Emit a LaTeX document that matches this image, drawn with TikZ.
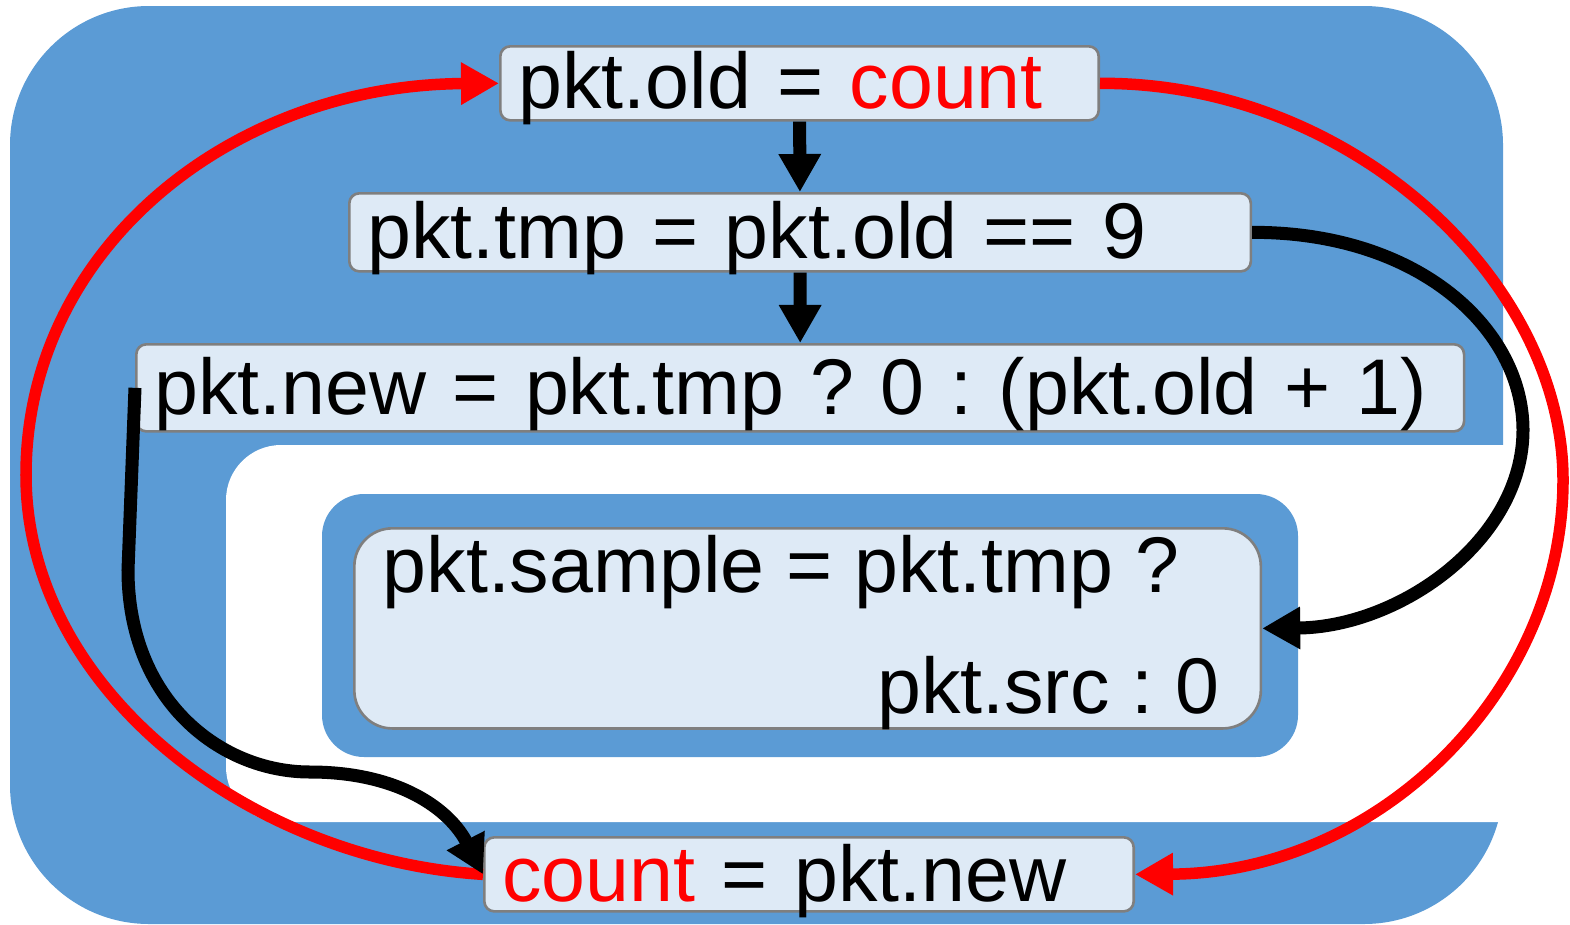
\documentclass[tikz,border=0pt]{standalone}
\usepackage{fontspec}
\setmainfont{Liberation Sans}
\usetikzlibrary{arrows.meta}
\definecolor{panelblue}{HTML}{5B9BD5}
\definecolor{stmtfill}{HTML}{DEEAF6}
\definecolor{stmtline}{HTML}{7F7F7F}

\begin{document}
\begin{tikzpicture}[x=0.01cm, y=-0.01cm,
		every node/.style={font=\fontsize{22.45pt}{34pt}\selectfont\frenchspacing, inner sep=0pt},
		stmt/.style={draw=stmtline, line width=0.75pt, fill=stmtfill, rounded corners=0.1cm,
			anchor=north west, align=left, inner xsep=0.18cm},
		flow/.style={line width=0.13cm, -{Triangle[length=0.38cm, width=0.4cm]}},
		loop/.style={red, line width=0.115cm, -{Triangle[length=0.38cm, width=0.4cm]}}]
	\useasboundingbox (0,0) rectangle (1570,924);
	% background panels
	\fill[panelblue, rounded corners=1.39cm] (10,6) rectangle (1503,924);
	\fill[white, rounded corners=0.55cm] (1650,445) -- (226,445) -- (226,822) -- (1650,822) -- cycle;
	\fill[panelblue, rounded corners=0.42cm] (322,494) rectangle (1298,757);

	% statements
	\node[stmt, text width=5.62cm, text height=0.62cm, text depth=0.12cm] (old) at (499,45)
		{pkt.old = \textcolor{red}{count}};
	\node[stmt, text width=8.65cm, text height=0.65cm, text depth=0.13cm] (tmp) at (348,192)
		{pkt.tmp = pkt.old == 9};
	\node[stmt, text width=12.91cm, text height=0.70cm, text depth=0.17cm] (new) at (135,343)
		{pkt.new = pkt.tmp ? 0 : (pkt.old + 1)};
	\node[stmt, text width=6.13cm, text height=0.64cm, text depth=0.10cm] (count) at (483,836)
		{\textcolor{red}{count} = pkt.new};
	\node[stmt, rounded corners=0.38cm, minimum width=9.06cm, minimum height=2cm] (sample) at (353,527) {};
	\node[anchor=base west] (samplecond) at (382,592) {pkt.sample = pkt.tmp ?};
	\node[anchor=base east] (sampleval) at (1220,713) {pkt.src : 0};

	% register loop
	\draw[loop] (count.west) .. controls (250,860) and (26,690) .. (26,475)
		.. controls (26,250) and (230,85) .. (old.west);
	\draw[loop] (old.east) .. controls (1350,82) and (1563,280) .. (1563,480)
		.. controls (1563,690) and (1380,873) .. (count.east);

	% data flow
	\draw[flow] (old) -- (tmp);
	\draw[flow] (tmp) -- (new);
	\draw[flow] (tmp.east) .. controls (1420,232) and (1523,330) .. (1523,430)
		.. controls (1523,540) and (1400,627) .. (sample.east);
	\draw[flow] (new.west) -- (128,570) .. controls (128,700) and (220,772) .. (310,772)
		.. controls (400,772) and (450,810) .. (count.west);
\end{tikzpicture}
\end{document}
